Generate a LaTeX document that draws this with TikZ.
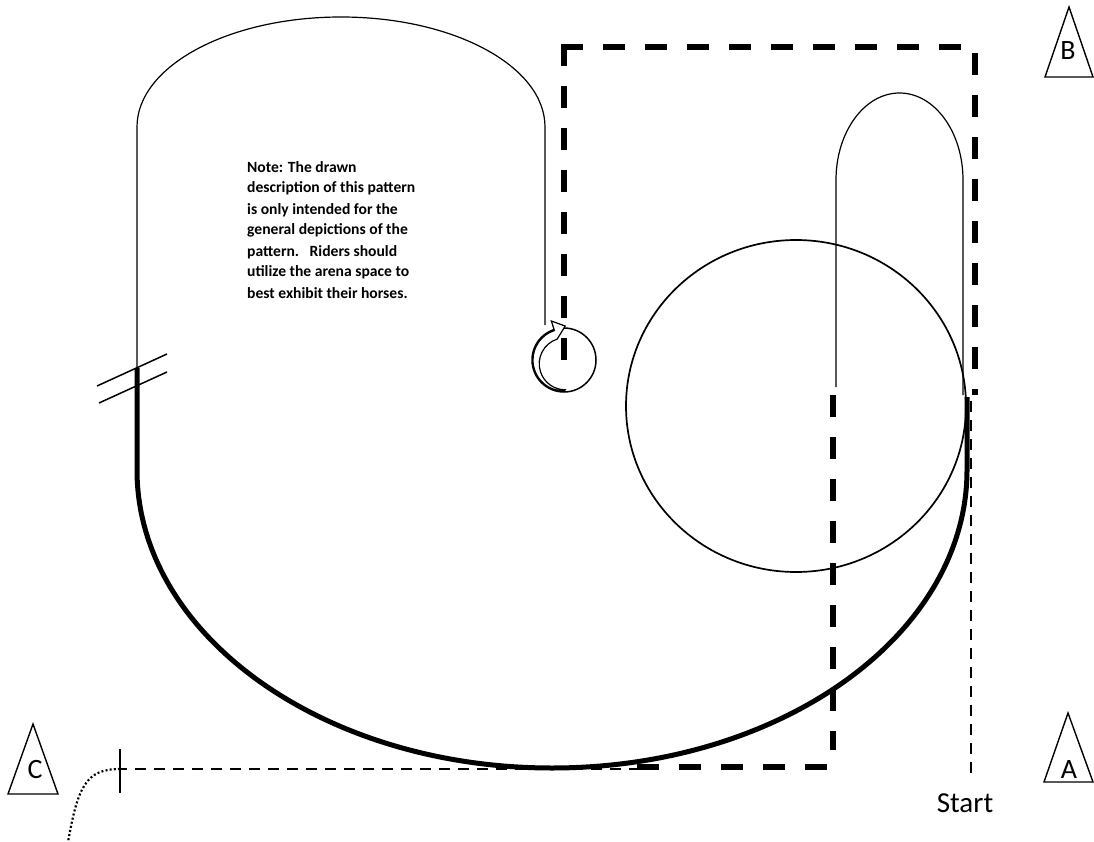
\documentclass[tikz,border=0pt]{standalone}
\usepackage{fontspec}
\setmainfont{Carlito}
\usetikzlibrary{calc}
\begin{document}
\begin{tikzpicture}[x=1pt,y=-1pt,
  thinpath/.style={line width=1.2pt},
  thickpath/.style={line width=5pt},
  bigdash/.style={line width=6pt,dash pattern=on 22pt off 20pt},
  smalldash/.style={line width=2pt,dash pattern=on 11pt off 8pt},
  cone/.style={line width=1.4pt,line join=miter},
  letter/.style={font=\fontsize{28}{30}\selectfont,inner sep=0pt,anchor=base}]
\useasboundingbox (0,0) rectangle (1094,842);
% top-left loop (thin)
\draw[thinpath] (137,368) -- (137,127) arc[start angle=180,end angle=360,x radius=204,y radius=110] -- (545,325);
% thick U
\draw[thickpath] (137,368) -- (137,470) arc[start angle=180,end angle=0,x radius=415,y radius=298] -- (967,397);
% hash marks
\draw[line width=1.5pt] (97,386) -- (167,354);
\draw[line width=1.5pt] (99,403) -- (167,372);
% hairpin
\draw[thinpath] (836,387) -- (836,180) arc[start angle=180,end angle=360,x radius=63.5,y radius=87] -- (963,395);
% big circle
\draw[line width=1.7pt] (796,406) ellipse[x radius=170,y radius=166];
% small circle
\draw[line width=1.5pt] (564,360) circle[radius=32];
% curved hollow arrow inside small circle
\draw[line width=1.2pt,line join=miter,fill=white]
  (564,360) ++(90:31) arc[start angle=90,end angle=252,radius=31]
  -- ($(564,360)+(252:41)$) -- ($(564,360)+(272:34)$) -- ($(564,360)+(252:22)$)
  arc[start angle=252,end angle=90,radius=26] -- cycle;
% thick dashed route
\draw[bigdash] (564,44) -- (564,368);
\draw[bigdash] (561,47) -- (975,47) -- (975,395);
\draw[bigdash] (833,395) -- (833,750);
\draw[bigdash] (827,767) -- (637,767);
% thin dashed lines
\draw[smalldash] (971,773) -- (971,397);
\draw[smalldash] (640,769) -- (120,769);
% cross mark and dotted curve
\draw[line width=1.6pt] (120,749) -- (120,793);
\draw[line width=2.2pt,dash pattern=on 2pt off 2.2pt] (120,769) .. controls (86,769) and (78,786) .. (68,842);
% cones
\draw[cone] (1069,7) -- (1093,77) -- (1045,77) -- cycle;
\node[letter] (lb) at (1068,60) {B};
\draw[cone] (1068,713) -- (1093,782) -- (1044,782) -- cycle;
\node[letter] (la) at (1069,778) {A};
\draw[cone] (33,724) -- (58,794) -- (8,794) -- cycle;
\node[letter] (lc) at (35,778) {C};
\node[letter,font=\fontsize{29}{32}\selectfont] (start) at (965,812) {Start};
% note
\node[anchor=base west,inner sep=0pt,align=left,font=\bfseries\fontsize{15.6}{21}\selectfont] (note) at (247,298)
 {Note: The drawn\\description of this pattern\\is only intended for the\\general depictions of the\\pattern.\ \ \ Riders should\\utilize the arena space to\\best exhibit their horses.};
\end{tikzpicture}
\end{document}
